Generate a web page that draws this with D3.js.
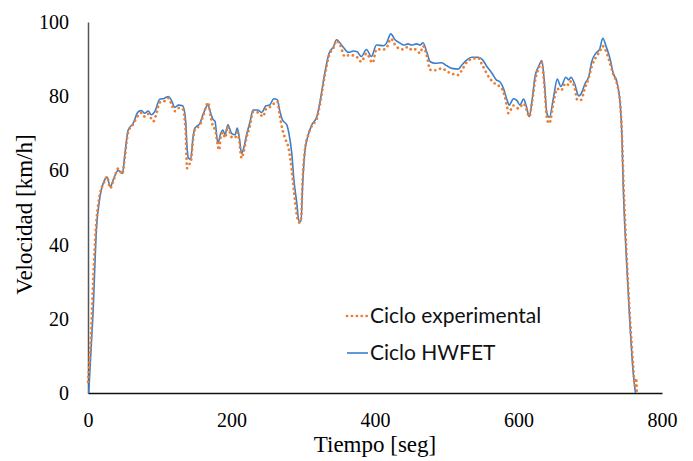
<!DOCTYPE html>
<html>
<head>
<meta charset="utf-8">
<script src="https://cdn.jsdelivr.net/npm/d3@7"></script>
<style>
  body { margin: 0; background: #fff; }
</style>
</head>
<body>
<div class="chart"></div>
<script>
// tiempo [s] y velocidad [km/h]
const hwfetTime = [1, 7, 12, 16, 23, 26.5, 31, 36, 42, 48, 51, 56, 63, 70, 74.5, 79, 84, 88, 93, 100, 106, 112, 116, 121, 126, 132, 136, 138, 140, 143, 146.5, 149, 156, 161, 167, 171, 174, 177, 181, 185, 188, 191, 195, 200, 205, 208, 211, 214, 217, 221, 226, 230, 237, 242, 248, 253, 259, 264, 267, 271, 277, 280, 284, 287, 291, 294, 297, 299, 302, 307, 312, 319, 323, 330, 336, 342, 346.5, 351, 357, 363, 370, 375, 381, 388, 395, 402, 412, 416, 422, 428, 435, 440, 446, 451, 458, 463, 467, 472, 477, 484, 493, 500, 507, 516, 521, 528, 535, 544, 550, 556, 563, 569, 574, 579, 584, 587, 593, 598, 602, 607, 611, 615, 619, 623, 628, 632.5, 636, 639.5, 643, 649, 654, 659, 666, 670, 673, 678, 684, 687, 693, 698, 702, 708, 713, 717.5, 722, 728, 732, 737, 742, 744, 746, 750, 755, 759.5, 763];
const hwfetSpeed = [0, 21.5, 44.9, 52, 57.4, 58.2, 55.6, 57.9, 60, 59.2, 63.7, 70.9, 72.7, 75.8, 76.1, 75.4, 76, 75, 75.8, 79.2, 79.4, 79.9, 79, 77, 77.6, 77.4, 73.6, 66.4, 63.3, 63, 69.1, 71.4, 72.7, 75.4, 77.6, 75.4, 73.8, 73.2, 67.3, 70, 70.9, 69.6, 72.3, 70, 69.6, 71.4, 68.7, 64.6, 66, 69.6, 73.2, 76.3, 76.3, 75.6, 77.4, 77.6, 79.3, 79, 76.3, 73.6, 72.3, 70, 64.6, 57.4, 51.2, 46.3, 46.3, 55.6, 64.6, 69.6, 72.3, 74.5, 78.1, 86.2, 91.6, 93.3, 95.2, 94.4, 92.9, 91.8, 92.2, 92, 90.7, 92.6, 90.7, 93.8, 93.6, 94.3, 96.8, 95.2, 94.3, 93.8, 94.1, 93.8, 94.1, 93.8, 94.4, 92, 89.3, 88.9, 89, 88.2, 87.5, 87.3, 88.4, 89.8, 90.5, 90.5, 89.8, 88, 86.2, 84.4, 83.9, 82.1, 79, 77.6, 79.3, 78.8, 77.6, 79.2, 77.2, 74.5, 79, 85.3, 88, 89.6, 84, 75.4, 74.3, 79.9, 84.6, 82.6, 85.1, 84.4, 85.1, 83.5, 80.1, 80.6, 83.5, 85.3, 89.3, 91.6, 92.6, 95.6, 93.5, 89.8, 86.2, 83.9, 77.2, 70, 55.6, 37.7, 19.7, 6.3, 0];

const expTime = [0, 4, 8, 12, 16, 23, 26.5, 31, 36, 42, 48, 51, 56, 63, 70, 74.5, 79, 84, 88, 91, 95, 100, 106, 112, 116, 121, 126, 132, 136, 138, 140, 143, 146.5, 149, 156, 161, 167.5, 171, 174, 177, 182.8, 185, 188, 191, 195, 200, 205, 208, 211, 214, 217, 221, 226, 230, 237, 244, 248, 253, 259, 264, 267, 271, 275, 279, 284, 288.4, 292, 295, 297, 299, 302, 307, 312, 319, 323, 330, 336, 342, 346.5, 351, 358, 363, 370, 375, 381, 388, 396.7, 402, 412, 416, 422, 430, 439.5, 446, 451, 456, 463, 467, 472, 477, 484, 493, 501, 508, 516, 521, 528, 535, 544, 549, 560, 570, 575, 580, 584, 586, 593, 600, 607, 611, 615, 619, 623, 628, 632.5, 636, 640, 643, 649, 654, 659, 666, 670, 673, 678, 682, 687, 693, 698, 702, 708, 713, 717.5, 721, 726, 732, 737, 742, 744, 746.5, 750.5, 755.5, 760, 762, 764, 765];
const expSpeed = [3, 15, 34, 47, 53, 57, 58.3, 55.2, 57.5, 60.5, 59, 63, 70.3, 72.5, 74.8, 75.5, 74.5, 75.2, 74, 73.2, 75, 78.3, 78.6, 79.5, 78, 76, 76.8, 76.5, 71, 60.6, 61.5, 62, 68.5, 71, 72.2, 75, 78.3, 74.5, 72, 71, 65.5, 69, 70.2, 68.8, 71.8, 69, 68.8, 70.2, 67.6, 63.3, 65, 68.8, 72.2, 75.8, 75.6, 74.5, 76.5, 77, 78, 78.5, 75, 71, 68.5, 66.4, 60.1, 52, 47, 45.9, 47, 57, 65, 69.6, 72, 74, 77.5, 85.5, 91, 93, 95, 94, 90.7, 91, 91, 90.5, 89.3, 91.5, 89, 92.6, 92.6, 93, 95.5, 93.3, 92.6, 93.3, 92.5, 92.6, 91.6, 93.5, 91, 87.1, 87, 87.5, 86.6, 86, 85.7, 87, 89.2, 90, 90.3, 88.6, 84.8, 83, 82.5, 80.5, 77.2, 75.4, 77.5, 76.7, 78, 76.5, 74.5, 78.5, 84, 87.5, 89, 83, 73.6, 72.7, 78.5, 82, 81.5, 83.5, 83, 84, 82.5, 79, 79, 82.5, 85, 88, 90.5, 92, 93.5, 92.6, 89.8, 86, 83.5, 77.5, 70.5, 56, 38, 20, 7, 2, 4, 0];

const xTicks = [0, 200, 400, 600, 800];
const yTicks = [0, 20, 40, 60, 80, 100];
const seriesNames = ["Ciclo experimental", "Ciclo HWFET"];
const seriesColors = ["#ED7D31", "#3A7FCB"];

const width = 693;
const height = 461;
const margin = { top: 22, right: 31, bottom: 68, left: 88 };

const x = d3.scaleLinear()
  .domain([0, 800])
  .range([margin.left, width - margin.right]);

const y = d3.scaleLinear()
  .domain([0, 100])
  .range([height - margin.bottom, margin.top]);

const svg = d3.select(".chart")
  .append("svg")
  .attr("width", width)
  .attr("height", height);

const serif = "'Liberation Serif', 'Times New Roman', serif";

// ejes
const yAxis = svg.append("g")
  .attr("transform", `translate(${margin.left},0)`)
  .call(d3.axisLeft(y).tickValues(yTicks).tickSize(0).tickPadding(19));
yAxis.select(".domain").attr("stroke", "#555").attr("stroke-width", 1.5);

const xAxis = svg.append("g")
  .attr("transform", `translate(0,${y(0)})`)
  .call(d3.axisBottom(x).tickValues(xTicks).tickSize(0).tickPadding(20));
xAxis.select(".domain").attr("stroke", "#111").attr("stroke-width", 1.5);

[xAxis, yAxis].forEach(g => g.attr("font-family", serif).attr("font-size", 20));
svg.selectAll(".tick text").attr("fill", "#000");

// series
const line = d3.line()
  .x(d => x(d[0]))
  .y(d => y(d[1]))
  .curve(d3.curveMonotoneX);

const expData = expTime.map((t, i) => [t, expSpeed[i]]);
const hwfetData = hwfetTime.map((t, i) => [t, hwfetSpeed[i]]);

svg.append("path")
  .attr("d", line(hwfetData))
  .attr("fill", "none")
  .attr("stroke", seriesColors[1])
  .attr("stroke-width", 1.6);

svg.append("path")
  .attr("d", line(expData))
  .attr("fill", "none")
  .attr("stroke", seriesColors[0])
  .attr("stroke-width", 2.7)
  .attr("stroke-linecap", "round")
  .attr("stroke-dasharray", "0.1 4.8");

// titulos de ejes
svg.append("text")
  .attr("x", (x(0) + x(800)) / 2)
  .attr("y", 452)
  .attr("text-anchor", "middle")
  .style("font-family", serif)
  .style("font-size", "23px")
  .text("Tiempo [seg]");

svg.append("text")
  .attr("transform", `translate(32,${(y(0) + y(100)) / 2 + 7}) rotate(-90)`)
  .attr("text-anchor", "middle")
  .style("font-family", serif)
  .style("font-size", "23px")
  .text("Velocidad [km/h]");

// leyenda
const legend = svg.append("g")
  .selectAll("g")
  .data(seriesNames)
  .enter()
  .append("g")
  .attr("transform", (d, i) => `translate(347,${316 + i * 37})`);

legend.append("line")
  .attr("x1", 0)
  .attr("x2", 21)
  .attr("stroke", (d, i) => seriesColors[i])
  .attr("stroke-width", (d, i) => i === 0 ? 2.7 : 1.6)
  .attr("stroke-linecap", (d, i) => i === 0 ? "round" : "butt")
  .attr("stroke-dasharray", (d, i) => i === 0 ? "0.1 4.8" : null);

legend.append("text")
  .attr("x", 23)
  .attr("dy", "0.35em")
  .style("font-family", "Lato, 'Noto Sans', sans-serif")
  .style("font-size", "21px")
  .attr("fill", "#111")
  .text(d => d);
</script>
</body>
</html>
